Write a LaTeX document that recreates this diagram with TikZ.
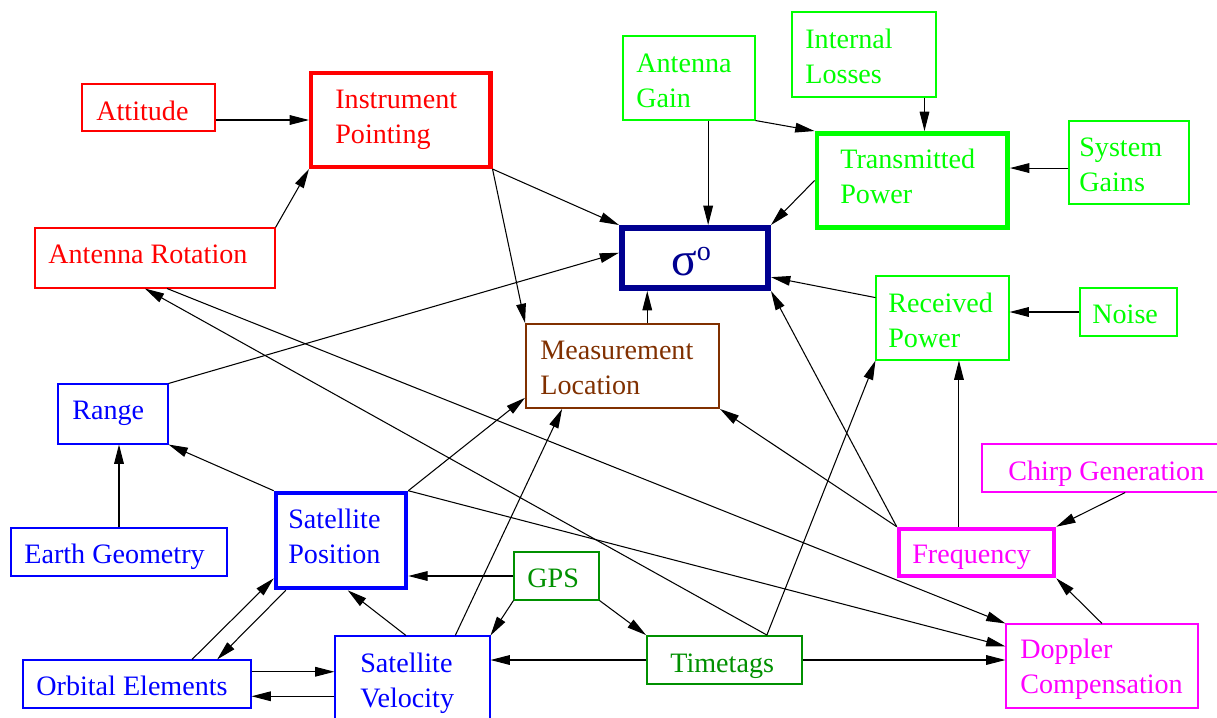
\documentclass[tikz,border=0pt]{standalone}
\usepackage{fontspec}
\setmainfont{Liberation Serif}
\usetikzlibrary{arrows.meta,calc}
\definecolor{dgreen}{RGB}{0,144,0}
\definecolor{navy}{RGB}{0,0,144}
\definecolor{brn}{RGB}{128,48,0}
\definecolor{grn}{RGB}{0,255,0}
\definecolor{mag}{RGB}{255,0,255}
\newcommand\mkbox[6]{\node[bx,#6,minimum width={(#4-#2)*0.02cm},minimum height={(#5-#3)*0.02cm}] (#1) at ({(#2+#4)/2},{(#3+#5)/2}) {};}
\newcommand\mktxt[5]{\node[txt,text=#5] (#1) at (#2,{#3-24.6}) {\strut #4};}
\begin{document}
\begin{tikzpicture}[x=0.02cm,y=-0.02cm,
  bx/.style={draw,rectangle,inner sep=0pt,line width=0.6pt},
  txt/.style={inner sep=0pt,anchor=north west,align=left,font=\fontsize{16}{20}\selectfont},
  arr/.style={-{Triangle[length=11pt,width=5.5pt]},line width=0.6pt,draw=black}]
\useasboundingbox (0,0) rectangle (1217,717);
\fill[white] (0,0) rectangle (1217,717);
\clip (0,0) rectangle (1217,717);
% boxes
\mkbox{att}{82}{84}{215}{131}{red}
\mkbox{ip}{311}{73}{490.5}{167}{red,line width=2.3pt}
\mkbox{ar}{35}{228}{275}{288}{red}
\mkbox{ag}{623}{36}{755}{120}{grn}
\mkbox{il}{792}{12}{936}{97}{grn}
\mkbox{tp}{817}{133.5}{1007.5}{227.5}{grn,line width=2.8pt}
\mkbox{sg}{1069}{121}{1189}{204}{grn}
\mkbox{sig}{622}{228}{768}{288}{navy,line width=3.4pt}
\mkbox{rp}{876}{276}{1009}{360}{grn}
\mkbox{ns}{1080}{288}{1177}{336}{grn}
\mkbox{ml}{526}{324}{719}{408}{brn,line width=1.1pt}
\mkbox{rg}{58}{384}{168}{444}{blue}
\mkbox{eg}{11}{528}{227}{576}{blue}
\mkbox{sp}{276}{493}{406}{588}{blue,line width=2.6pt}
\mkbox{oe}{23}{660}{251}{708}{blue}
\mkbox{sv}{335}{636}{490}{730}{blue}
\mkbox{gps}{514}{552}{599}{600}{dgreen}
\mkbox{tt}{647}{636}{802}{684}{dgreen,line width=1.1pt}
\mkbox{fr}{899}{529}{1054}{576}{mag,line width=2.6pt}
\mkbox{cg}{982}{444}{1230}{492}{mag}
\mkbox{dp}{1006}{624}{1198}{708}{mag}
% texts
\mktxt{att-t}{96}{120}{Attitude}{red}
\mktxt{ip-t}{335}{108}{Instrument\\Pointing}{red}
\mktxt{ar-t}{48}{263}{Antenna Rotation}{red}
\mktxt{ag-t}{636}{72}{Antenna\\Gain}{grn}
\mktxt{il-t}{805}{48}{Internal\\Losses}{grn}
\mktxt{tp-t}{840}{168}{Transmitted\\Power}{grn}
\mktxt{sg-t}{1079}{156}{System\\Gains}{grn}
\mktxt{rp-t}{888}{312}{Received\\Power}{grn}
\mktxt{ns-t}{1092}{323}{Noise}{grn}
\mktxt{ml-t}{540}{359}{Measurement\\Location}{brn}
\mktxt{rg-t}{72}{419}{Range}{blue}
\mktxt{eg-t}{24}{563}{Earth Geometry}{blue}
\mktxt{sp-t}{288}{528}{Satellite\\Position}{blue}
\mktxt{oe-t}{36}{695}{Orbital Elements}{blue}
\mktxt{sv-t}{360}{672}{Satellite\\Velocity}{blue}
\mktxt{gps-t}{527}{587}{GPS}{dgreen}
\mktxt{tt-t}{670}{672}{Timetags}{dgreen}
\mktxt{fr-t}{912}{563}{Frequency}{mag}
\mktxt{cg-t}{1008}{480}{Chirp Generation}{mag}
\mktxt{dp-t}{1020}{658}{Doppler\\Compensation}{mag}
\node[inner sep=0pt,anchor=base west,text=navy,font=\fontsize{27}{30}\selectfont] (sig-t) at (671,275) {σ\raisebox{8.5pt}{\fontsize{16}{16}\selectfont o}};
% helper coordinates
\coordinate (agb) at ($(ag.south west)!0.644!(ag.south east)$);
\coordinate (ilb) at ($(il.south west)!0.917!(il.south east)$);
\coordinate (sgw) at ($(sg.north west)!0.566!(sg.south west)$);
\coordinate (mlt) at ($(ml.north west)!0.627!(ml.north east)$);
\coordinate (frt) at ($(fr.north west)!0.39!(fr.north east)$);
\coordinate (ttt) at ($(tt.north west)!0.77!(tt.north east)$);
\coordinate (oe1) at ($(oe.north east)!0.25!(oe.south east)$);
\coordinate (oe2) at ($(oe.north east)!0.75!(oe.south east)$);
% connectors
\draw[arr] (ip.west -| att.east) -- (ip.west);
\draw[arr] (ar.north east) -- (ip.south west);
\draw[arr] (ip.south east) -- (sig.north west);
\draw[arr] (ip.south east) -- (ml.north west);
\draw[arr] (agb) -- (sig.north -| agb);
\draw[arr] (ag.south east) -- (tp.north west);
\draw[arr] (ilb) -- (tp.north -| ilb);
\draw[arr] (sgw) -- (tp.east |- sgw);
\draw[arr] (tp.west) -- (sig.north east);
\draw[arr] ($(rp.north west)!0.26!(rp.south west)$) -- ($(sig.north east)!0.79!(sig.south east)$);
\draw[arr] (ns.west) -- (rp.east |- ns.west);
\draw[arr] (mlt) -- (sig.south -| mlt);
\draw[arr] (rg.north east) -- ($(sig.north west)!0.42!(sig.south west)$);
\draw[arr] (fr.north west) -- (sig.south east);
\draw[arr] (frt) -- (rp.south -| frt);
\draw[arr] (fr.north west) -- (ml.south east);
\draw[arr] ($(cg.south west)!0.577!(cg.south east)$) -- (fr.north east);
\draw[arr] (dp.north) -- (fr.south east);
\draw[arr] (ttt) -- (rp.south west);
\draw[arr] (ttt) -- ($(ar.south west)!0.458!(ar.south east)$);
\draw[arr] ($(ar.south west)!0.55!(ar.south east)$) -- (dp.north west);
\draw[arr] (sp.north east) -- ($(dp.north west)!0.27!(dp.south west)$);
\draw[arr] (tt.east) -- (dp.west |- tt.east);
\draw[arr] (tt.west) -- (sv.east |- tt.west);
\draw[arr] (gps.west) -- (sp.east |- gps.west);
\draw[arr] (gps.south west) -- (sv.north east);
\draw[arr] (gps.south east) -- (tt.north west);
\draw[arr] ($(sv.north west)!0.458!(sv.north east)$) -- ($(sp.south west)!0.55!(sp.south east)$);
\draw[arr] ($(sv.north west)!0.774!(sv.north east)$) -- ($(ml.south west)!0.19!(ml.south east)$);
\draw[arr] (sp.north east) -- ($(ml.north west)!0.87!(ml.south west)$);
\draw[arr] (sp.north west) -- (rg.south east);
\draw[arr] (eg.north) -- (rg.south -| eg.north);
\draw[arr] ($(oe.north west)!0.74!(oe.north east)$) -- ($(sp.north west)!0.88!(sp.south west)$);
\draw[arr] ($(sp.south west)!0.09!(sp.south east)$) -- ($(oe.north west)!0.85!(oe.north east)$);
\draw[arr] (oe1) -- (sv.west |- oe1);
\draw[arr] (sv.west |- oe2) -- (oe2);
\end{tikzpicture}
\end{document}
